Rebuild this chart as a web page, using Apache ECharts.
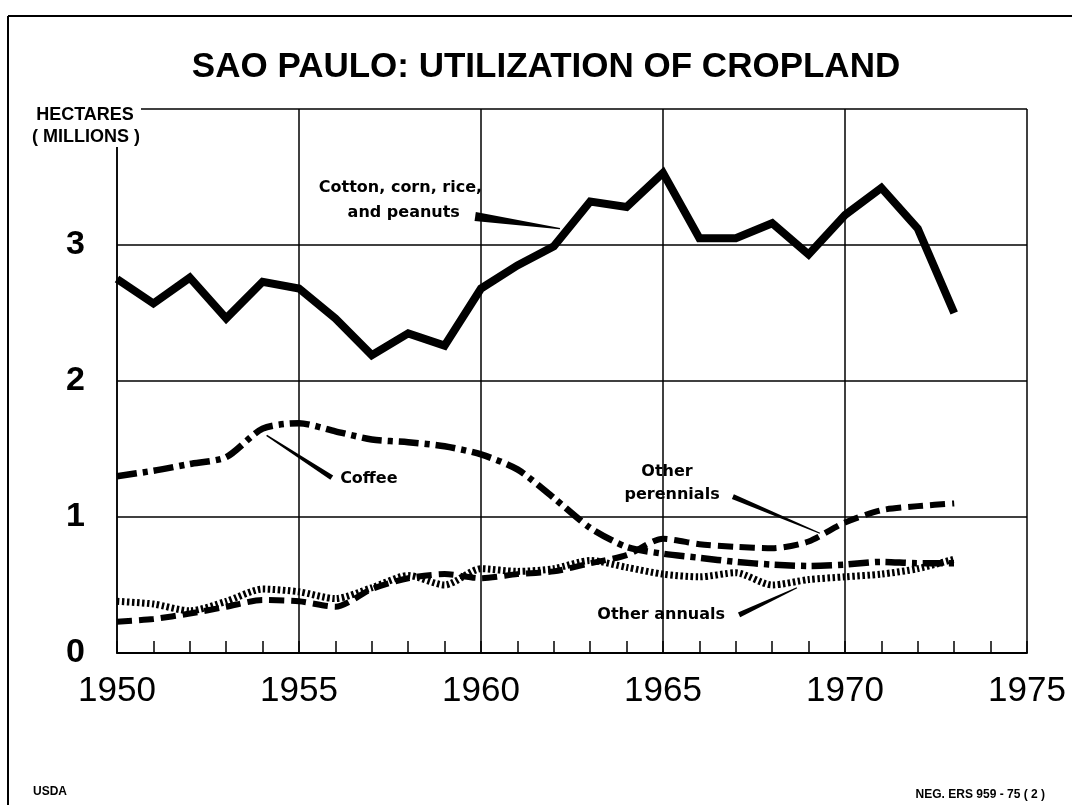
<!DOCTYPE html>
<html>
<head>
<meta charset="utf-8">
<title>Sao Paulo: utilization of cropland</title>
<script src="https://cdn.jsdelivr.net/npm/echarts@6/dist/echarts.min.js"></script>
<style>
    html, body { margin: 0; padding: 0; background: #fff; }
    #main { width: 1072px; height: 805px; }
</style>
</head>
<body>
<div id="main"></div>
<script>
var years = [1950, 1951, 1952, 1953, 1954, 1955, 1956, 1957, 1958, 1959, 1960, 1961,
             1962, 1963, 1964, 1965, 1966, 1967, 1968, 1969, 1970, 1971, 1972, 1973];
// million hectares
var cotton = [2.75, 2.57, 2.76, 2.46, 2.73, 2.68, 2.46, 2.19, 2.35, 2.26, 2.68, 2.85,
              2.99, 3.32, 3.28, 3.53, 3.05, 3.05, 3.16, 2.93, 3.22, 3.42, 3.12, 2.50];
var coffee = [1.30, 1.34, 1.39, 1.44, 1.65, 1.69, 1.63, 1.57, 1.55, 1.52, 1.46, 1.35,
              1.14, 0.92, 0.78, 0.73, 0.70, 0.67, 0.65, 0.64, 0.65, 0.67, 0.66, 0.66];
var perennials = [0.23, 0.25, 0.29, 0.34, 0.39, 0.38, 0.34, 0.47, 0.55, 0.58, 0.55, 0.58,
                  0.60, 0.66, 0.72, 0.84, 0.80, 0.78, 0.77, 0.82, 0.96, 1.05, 1.08, 1.10];
var annuals = [0.38, 0.36, 0.31, 0.38, 0.47, 0.45, 0.40, 0.48, 0.57, 0.50, 0.62, 0.60,
               0.62, 0.68, 0.63, 0.58, 0.56, 0.59, 0.50, 0.54, 0.56, 0.58, 0.62, 0.69];
var xTicks = [1950, 1955, 1960, 1965, 1970, 1975];
var yTicks = ['0', '1', '2', '3'];

function pairs(vals) {
    return years.map(function (y, i) { return [y, vals[i]]; });
}

var ink = '#000';
var chart = echarts.init(document.getElementById('main'));

var option = {
    backgroundColor: '#fff',
    animation: false,
    title: {
        text: 'SAO PAULO: UTILIZATION OF CROPLAND',
        left: 541,
        top: 45,
        textAlign: 'center',
        textStyle: { fontFamily: 'Liberation Sans', fontWeight: 'bold', fontSize: 35, color: ink }
    },
    grid: { left: 117, right: 45, top: 109, bottom: 152 },
    xAxis: {
        type: 'value',
        min: 1950,
        max: 1975,
        interval: 5,
        axisLine: { lineStyle: { color: ink, width: 2 } },
        axisTick: { show: true, inside: true, length: 12, lineStyle: { color: ink, width: 1.5 } },
        minorTick: { show: true, splitNumber: 5, length: 12, lineStyle: { color: ink, width: 1.5 } },
        splitLine: { show: true, lineStyle: { color: ink, width: 1.5 } },
        axisLabel: {
            margin: 21,
            color: ink,
            fontFamily: 'Liberation Sans',
            fontSize: 35,
            formatter: function (v) { return xTicks.indexOf(v) >= 0 ? String(v) : ''; }
        }
    },
    yAxis: {
        type: 'value',
        min: 0,
        max: 4,
        interval: 1,
        axisLine: { show: true, lineStyle: { color: ink, width: 1.5 } },
        axisTick: { show: false },
        splitLine: { show: true, lineStyle: { color: ink, width: 1.5 } },
        axisLabel: {
            margin: 32,
            color: ink,
            fontFamily: 'Liberation Sans',
            fontWeight: 'bold',
            fontSize: 34,
            formatter: function (v) { return yTicks[v] !== undefined ? yTicks[v] : ''; }
        }
    },
    series: [
        {
            name: 'Other annuals', type: 'line', data: pairs(annuals), symbol: 'none', smooth: 0.25,
            lineStyle: { color: ink, width: 7, type: [2.5, 2.5], cap: 'butt' }
        },
        {
            name: 'Other perennials', type: 'line', data: pairs(perennials), symbol: 'none', smooth: 0.25,
            lineStyle: { color: ink, width: 6, type: [15, 7], cap: 'butt' }
        },
        {
            name: 'Coffee', type: 'line', data: pairs(coffee), symbol: 'none', smooth: 0.25,
            lineStyle: { color: ink, width: 6.5, type: [20, 6, 5, 6], cap: 'butt' }
        },
        {
            name: 'Cotton, corn, rice, and peanuts', type: 'line', data: pairs(cotton), symbol: 'none',
            lineStyle: { color: ink, width: 8, join: 'miter' }
        }
    ]
};
chart.setOption(option);

// annotations placed in data coordinates
function px(p) { return chart.convertToPixel({ gridIndex: 0 }, p); }

function wedge(a, b, halfA, halfB) {
    var pa = px(a), pb = px(b);
    var dx = pb[0] - pa[0], dy = pb[1] - pa[1];
    var len = Math.sqrt(dx * dx + dy * dy);
    var nx = -dy / len, ny = dx / len;
    return {
        type: 'polygon', z: 60,
        shape: { points: [
            [pa[0] + nx * halfA, pa[1] + ny * halfA],
            [pb[0] + nx * halfB, pb[1] + ny * halfB],
            [pb[0] - nx * halfB, pb[1] - ny * halfB],
            [pa[0] - nx * halfA, pa[1] - ny * halfA]
        ] },
        style: { fill: ink }
    };
}

function note(p, text, align) {
    var q = px(p);
    return {
        type: 'text', x: q[0], y: q[1], z: 60,
        style: {
            text: text, fill: ink, align: align, verticalAlign: 'middle',
            font: 'bold 16px "DejaVu Sans"'
        }
    };
}

chart.setOption({
    graphic: [
        // outer frame
        { type: 'line', z: 60, shape: { x1: 8, y1: 16, x2: 1072, y2: 16 }, style: { stroke: ink, lineWidth: 2 } },
        { type: 'line', z: 60, shape: { x1: 8, y1: 16, x2: 8, y2: 805 }, style: { stroke: ink, lineWidth: 2 } },
        // unit label breaking the frame corner
        { type: 'rect', z: 70, shape: { x: 14, y: 100, width: 127, height: 47 }, style: { fill: '#fff' } },
        { type: 'text', z: 71, x: 85, y: 115,
          style: { text: 'HECTARES', fill: ink, align: 'center', verticalAlign: 'middle', font: 'bold 18px "Liberation Sans"' } },
        { type: 'text', z: 71, x: 86, y: 137,
          style: { text: '( MILLIONS )', fill: ink, align: 'center', verticalAlign: 'middle', font: 'bold 18px "Liberation Sans"' } },

        note([1960.03, 3.42], 'Cotton, corn, rice,', 'right'),
        note([1959.42, 3.24], 'and peanuts', 'right'),
        wedge([1959.84, 3.21], [1962.17, 3.12], 4.5, 0.6),

        note([1956.13, 1.28], 'Coffee', 'left'),
        wedge([1955.9, 1.29], [1954.11, 1.60], 2.6, 0.8),

        note([1965.11, 1.33], 'Other', 'center'),
        note([1965.25, 1.16], 'perennials', 'center'),
        wedge([1966.92, 1.15], [1969.31, 0.88], 2.6, 0.6),

        note([1964.95, 0.28], 'Other annuals', 'center'),
        wedge([1967.09, 0.28], [1968.68, 0.48], 2.6, 0.6),

        // credits
        { type: 'text', z: 60, x: 33, y: 792,
          style: { text: 'USDA', fill: ink, align: 'left', verticalAlign: 'middle', font: 'bold 12px "Liberation Sans"' } },
        { type: 'text', z: 60, x: 1045, y: 795,
          style: { text: 'NEG. ERS 959 - 75 ( 2 )', fill: ink, align: 'right', verticalAlign: 'middle', font: 'bold 12px "Liberation Sans"' } }
    ]
});
</script>
</body>
</html>
